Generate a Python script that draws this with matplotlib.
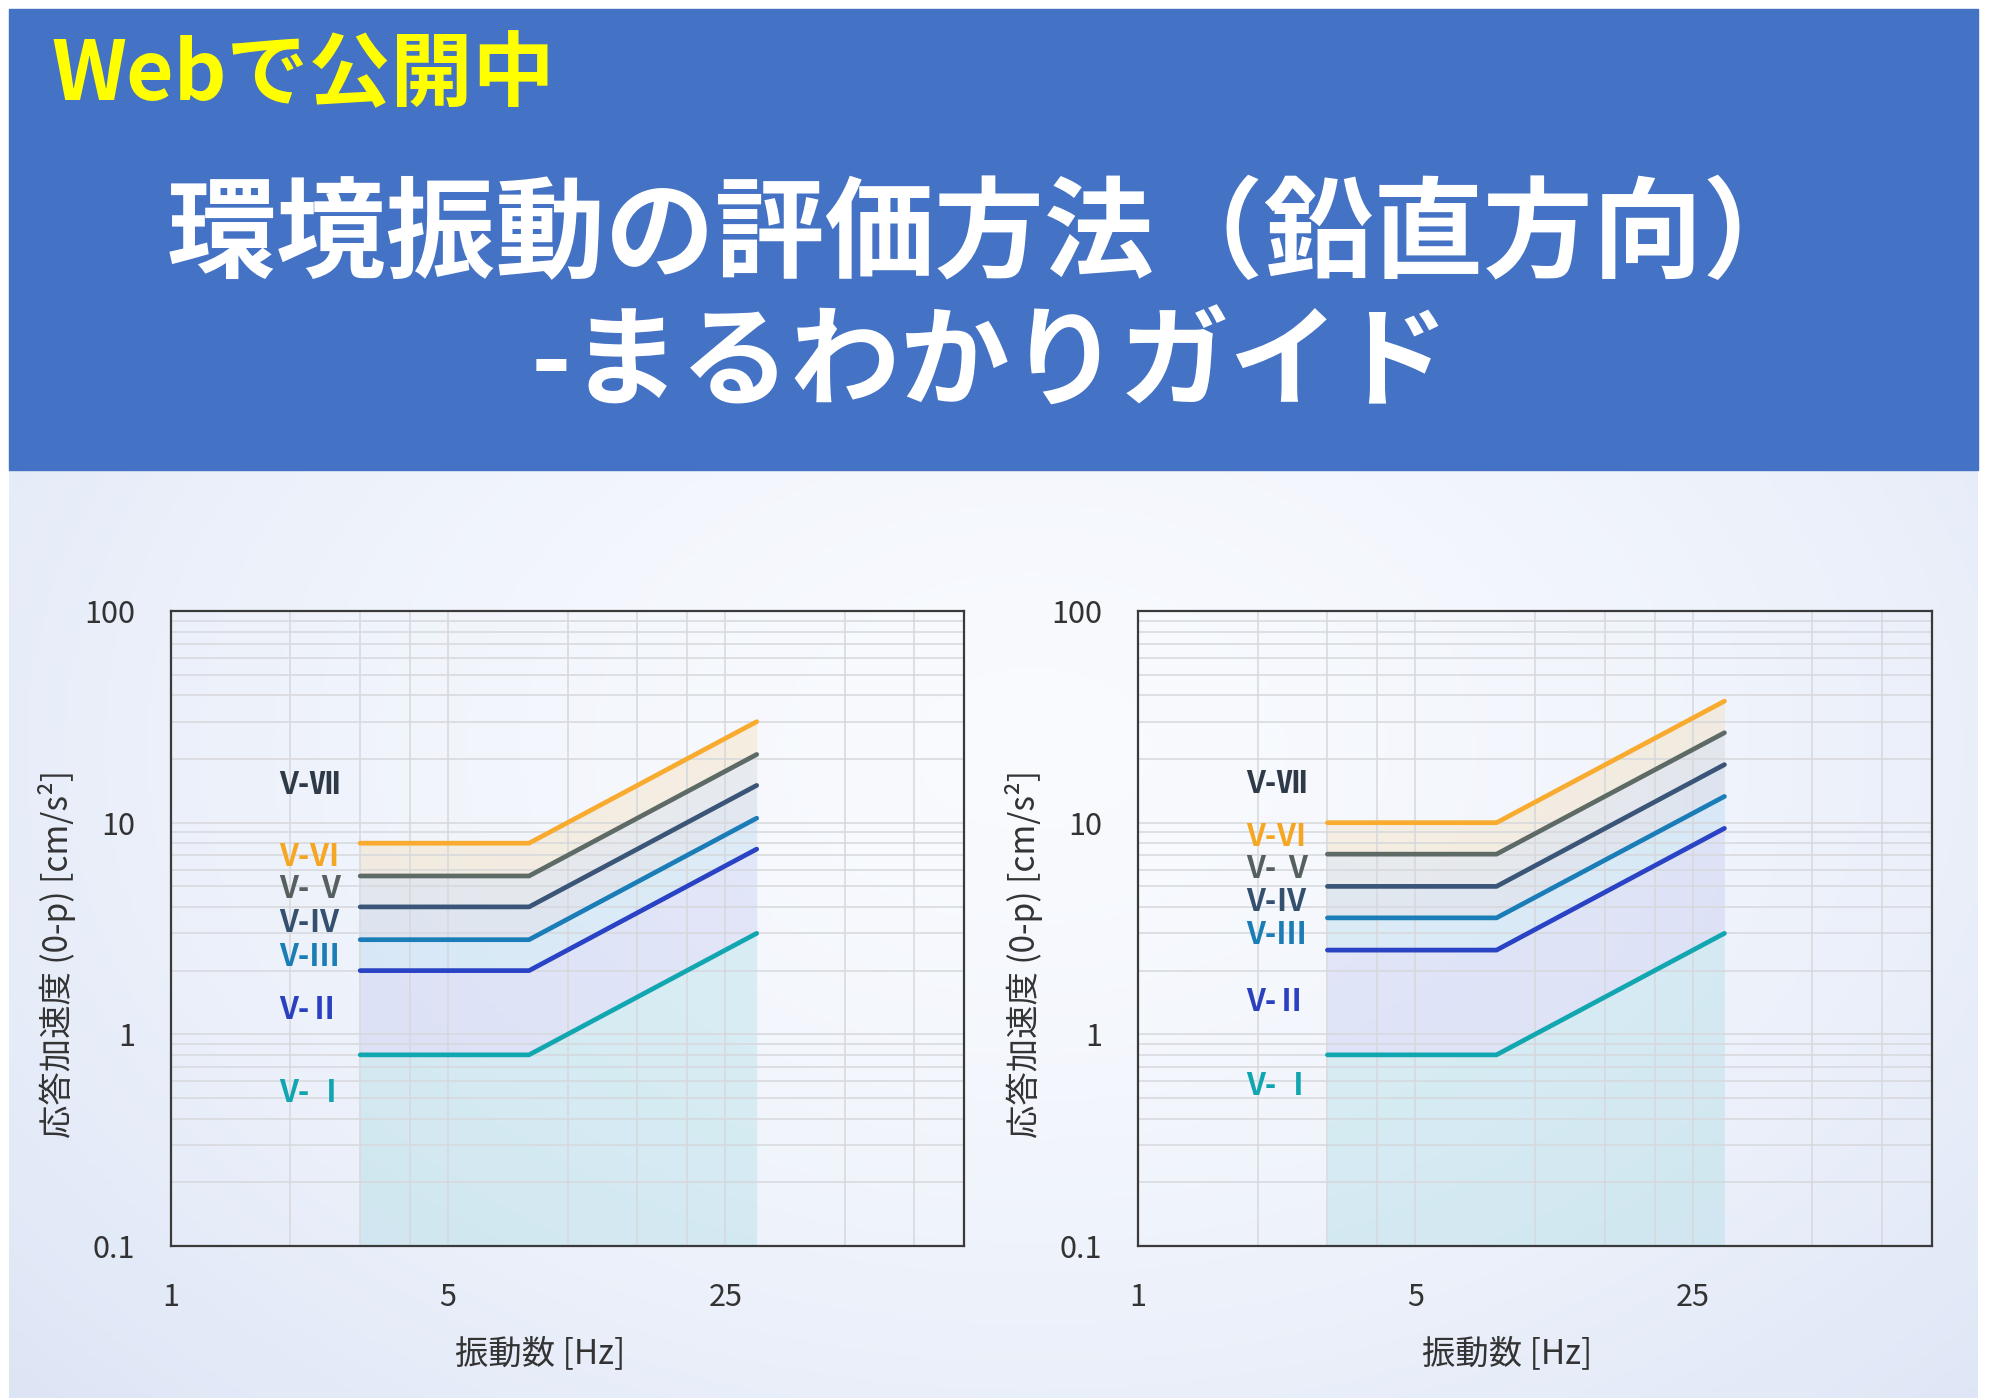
import numpy as np
import matplotlib; matplotlib.use("Agg")
import matplotlib.pyplot as plt
from matplotlib.patches import Rectangle
from matplotlib.ticker import LogLocator, FixedLocator, FixedFormatter, NullFormatter

plt.rcParams["font.family"] = ["Noto Sans CJK JP", "DejaVu Sans"]

# ---- data -------------------------------------------------------------
freq = [3, 8, 30]                      # Hz, break points of each limit line
classes = ["V- Ⅰ", "V-Ⅱ", "V-Ⅲ", "V-Ⅳ", "V- Ⅴ", "V-Ⅵ", "V-Ⅶ"]

left_I   = [0.8, 0.8, 3.0]
left_II  = [2.0, 2.0, 7.5]
left_III = [2.8, 2.8, 10.5]
left_IV  = [4.0, 4.0, 15.0]
left_V   = [5.6, 5.6, 21.0]
left_VI  = [8.0, 8.0, 30.0]

right_I   = [0.8, 0.8, 3.0]
right_II  = [2.5, 2.5, 9.4]
right_III = [3.55, 3.55, 13.3]
right_IV  = [5.0, 5.0, 18.8]
right_V   = [7.1, 7.1, 26.6]
right_VI  = [10.0, 10.0, 37.5]

# label heights (y value of each class label)
left_label_y  = [0.53, 1.31, 2.33, 3.34, 4.85, 6.85, 15.1]
right_label_y = [0.57, 1.42, 2.95, 4.23, 6.05, 8.55, 15.3]

x_ticks = [1, 5, 25]
x_ticklabels = ["1", "5", "25"]
y_ticks = [0.1, 1, 10, 100]
y_ticklabels = ["0.1", "1", "10", "100"]

LINE_COLORS  = ["#12a7b0", "#2a42c4", "#1a7db8", "#3a5577", "#5e6a66", "#f8ab2e"]
LABEL_COLORS = ["#10a5b0", "#2a40bf", "#1a7db5", "#34506e", "#56615f", "#f5a623", "#2e3a48"]
FILL_COLORS  = ["#9fd8e0", "#b9c0ee", "#a8d2ec", "#b8c6d6", "#c9cdd0", "#f6d8a8"]

W, H = 1992, 1400
fig = plt.figure(figsize=(W / 100, H / 100), dpi=100)
fig.patch.set_facecolor("white")

# gradient backdrop below the header
bg = fig.add_axes([9 / W, 2 / H, 1969 / W, (1398 - 470) / H], zorder=-5)
gx, gy = np.meshgrid(np.linspace(0, 1, 400), np.linspace(0, 1, 300))
d = np.sqrt(((gx - 0.52) / 0.75) ** 2 + ((gy - 0.30) / 1.1) ** 2)
d = np.clip(d, 0, 1) ** 1.6
c0 = np.array([0.975, 0.982, 0.996]); c1 = np.array([0.855, 0.890, 0.960])
img = c0[None, None, :] * (1 - d[..., None]) + c1[None, None, :] * d[..., None]
bg.imshow(img, aspect="auto", extent=[0, 1, 0, 1])
bg.axis("off")

# header band
fig.patches.append(Rectangle((9 / W, 1 - 470 / H), 1969 / W, 461 / H,
                             transform=fig.transFigure, color="#4472c4", zorder=-4))
fig.text(51 / W, 1 - 76 / H, "Webで公開中", color="#ffff00", fontsize=59,
         fontweight="bold", ha="left", va="center")
fig.text(0.497, 1 - 238 / H, "環境振動の評価方法（鉛直方向）", color="white",
         fontsize=79, fontweight="bold", ha="center", va="center")
fig.text(0.497, 1 - 366 / H, "-まるわかりガイド", color="white",
         fontsize=79, fontweight="bold", ha="center", va="center")


def panel(rect, series, label_y):
    ax = fig.add_axes(rect)
    ax.set_facecolor("none")
    ax.set_xscale("log", base=5)
    ax.set_yscale("log")
    ax.set_xlim(1, 100)
    ax.set_ylim(0.1, 100)
    ax.xaxis.set_major_locator(FixedLocator(x_ticks))
    ax.xaxis.set_major_formatter(FixedFormatter(x_ticklabels))
    ax.xaxis.set_minor_locator(LogLocator(base=5, subs=[2, 3, 4]))
    ax.xaxis.set_minor_formatter(NullFormatter())
    ax.yaxis.set_major_locator(FixedLocator(y_ticks))
    ax.yaxis.set_major_formatter(FixedFormatter(y_ticklabels))
    ax.yaxis.set_minor_locator(LogLocator(base=10, subs=np.arange(2, 10)))
    ax.yaxis.set_minor_formatter(NullFormatter())
    ax.grid(which="both", color="#d6d8dc", lw=1.3, alpha=0.85, zorder=0)
    ax.tick_params(which="both", length=0)
    ax.tick_params(axis="y", pad=26, labelsize=22, labelcolor="#333333")
    ax.tick_params(axis="x", pad=26, labelsize=22, labelcolor="#333333")
    for s in ax.spines.values():
        s.set_color("#3a3a3a"); s.set_linewidth(1.6)

    lower = [0.1, 0.1, 0.1]
    for i, ys in enumerate(series):
        ax.fill_between(freq, lower, ys, color=FILL_COLORS[i], alpha=0.32, lw=0, zorder=1)
        lower = ys
    for i, ys in enumerate(series):
        ax.plot(freq, ys, color=LINE_COLORS[i], lw=3.4, solid_capstyle="round", zorder=3)
    for i, (lab, yv) in enumerate(zip(classes, label_y)):
        ax.text(1.87, yv, lab, color=LABEL_COLORS[i], fontsize=22, fontweight="bold",
                ha="left", va="center", zorder=4)

    ax.set_xlabel("振動数 [Hz]", fontsize=24, color="#333333")
    ax.xaxis.set_label_coords(0.465, -0.142)
    ax.set_ylabel("応答加速度 (0-p) [cm/s²]", fontsize=24, color="#333333")
    ax.yaxis.set_label_coords(-0.12, 0.46)
    return ax


bottom = 1 - 1246 / H
height = 635 / H
panel([171 / W, bottom, 793 / W, height],
      [left_I, left_II, left_III, left_IV, left_V, left_VI], left_label_y)
panel([1138 / W, bottom, 794 / W, height],
      [right_I, right_II, right_III, right_IV, right_V, right_VI], right_label_y)

fig.savefig("out.png", dpi=100)
